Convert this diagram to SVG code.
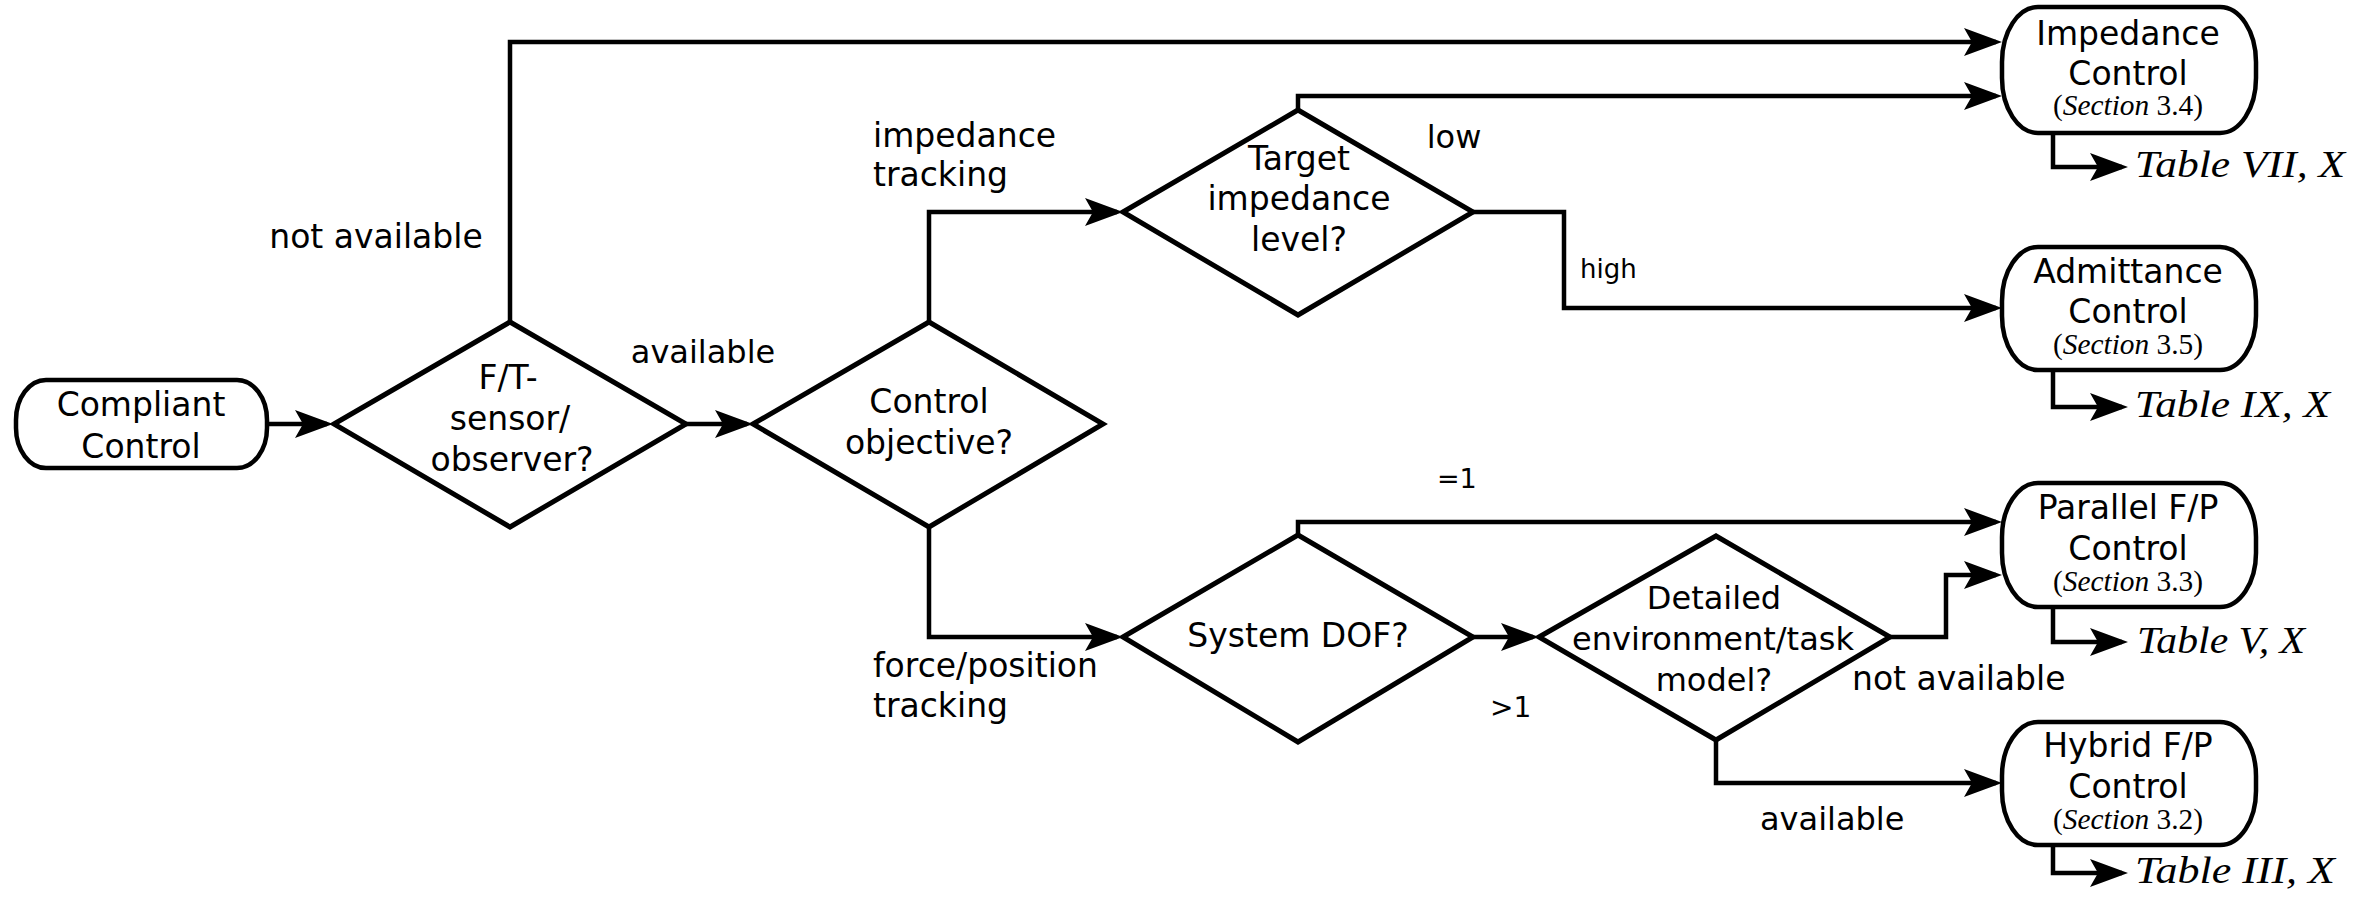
<svg xmlns="http://www.w3.org/2000/svg" width="2376" height="900" viewBox="0 0 2376 900">
<style>
.bg{fill:#ffffff}
.box{fill:#ffffff;stroke:#000;stroke-width:4.5}
.dia{fill:#ffffff;stroke:#000;stroke-width:5}
.con{fill:none;stroke:#000;stroke-width:4.5;stroke-linejoin:miter}
.t{font-family:"DejaVu Sans","Liberation Sans",sans-serif;font-size:33px;fill:#000;text-anchor:middle}
.d5{font-size:32px}
.lbl{font-family:"DejaVu Sans","Liberation Sans",sans-serif;font-size:32px;fill:#000}
.sec{font-family:"Liberation Serif","DejaVu Serif",serif;font-size:29px;fill:#000;text-anchor:middle}
.it{font-style:italic}
.tab{font-family:"Liberation Serif","DejaVu Serif",serif;font-size:38px;font-style:italic;fill:#000}
</style>
<defs>
<marker id="ah" markerUnits="userSpaceOnUse" viewBox="0 0 38 28" markerWidth="38" markerHeight="28" refX="32" refY="14" orient="auto">
<path d="M0,0 L38,14 L0,28 L8,14 Z" fill="#000"/>
</marker>
</defs>
<rect class="bg" x="0" y="0" width="2376" height="900"/>

<g id="connectors">
<path class="con" marker-end="url(#ah)" d="M268,424 H327"/>
<path class="con" marker-end="url(#ah)" d="M510,323 V42 H1996"/>
<path class="con" marker-end="url(#ah)" d="M685,424 H747"/>
<path class="con" marker-end="url(#ah)" d="M929,323 V212 H1117"/>
<path class="con" marker-end="url(#ah)" d="M1298,110 V96 H1996"/>
<path class="con" marker-end="url(#ah)" d="M1473,212 H1564 V308 H1996"/>
<path class="con" marker-end="url(#ah)" d="M929,527 V637 H1117"/>
<path class="con" marker-end="url(#ah)" d="M1298,535 V522 H1996"/>
<path class="con" marker-end="url(#ah)" d="M1473,637 H1533"/>
<path class="con" marker-end="url(#ah)" d="M1890,637 H1946 V575 H1996"/>
<path class="con" marker-end="url(#ah)" d="M1716,740 V783 H1996"/>
<path class="con" marker-end="url(#ah)" d="M2053,133 V167 H2122"/>
<path class="con" marker-end="url(#ah)" d="M2053,370 V407 H2122"/>
<path class="con" marker-end="url(#ah)" d="M2053,607 V642 H2122"/>
<path class="con" marker-end="url(#ah)" d="M2053,845 V873 H2122"/>
</g>

<g id="labels">
<text class="lbl" style="font-size:33px" x="376" y="248" text-anchor="middle">not available</text>
<text class="lbl" x="703" y="363" text-anchor="middle">available</text>
<text class="lbl" style="font-size:33px" x="873" y="147">impedance</text>
<text class="lbl" style="font-size:33px" x="873" y="186">tracking</text>
<text class="lbl" x="1454" y="148" text-anchor="middle">low</text>
<text class="lbl" style="font-size:26px" x="1580" y="278">high</text>
<text class="lbl" style="font-size:33px" x="873" y="677">force/position</text>
<text class="lbl" style="font-size:33px" x="873" y="717">tracking</text>
<text class="lbl" style="font-size:27px" x="1437" y="488">=1</text>
<text class="lbl" style="font-size:28px" x="1490" y="717">&gt;1</text>
<text class="lbl" style="font-size:33px" x="1852" y="690">not available</text>
<text class="lbl" x="1760" y="830">available</text>
</g>

<g id="compliant">
<rect class="box" x="16" y="380" width="251" height="88" rx="30" ry="40"/>
<text class="t" x="141" y="416">Compliant</text>
<text class="t" x="141" y="458">Control</text>
</g>

<g id="ft_sensor">
<polygon class="dia" points="334,424 510,322 686,424 510,527"/>
<text class="t" x="508" y="389">F/T-</text>
<text class="t" x="510" y="430">sensor/</text>
<text class="t" x="512" y="471">observer?</text>
</g>

<g id="control_objective">
<polygon class="dia" points="753,424 929,322 1103,424 929,527"/>
<text class="t" x="929" y="413">Control</text>
<text class="t" x="929" y="454">objective?</text>
</g>

<g id="target_impedance">
<polygon class="dia" points="1123,212 1298,110 1473,212 1298,315"/>
<text class="t" x="1299" y="170">Target</text>
<text class="t" x="1299" y="210">impedance</text>
<text class="t" x="1299" y="251">level?</text>
</g>

<g id="system_dof">
<polygon class="dia" points="1123,637 1298,535 1473,637 1298,742"/>
<text class="t" x="1298" y="647">System DOF?</text>
</g>

<g id="env_model">
<polygon class="dia" points="1539,637 1716,536 1890,637 1716,740"/>
<text class="t d5" x="1714" y="609">Detailed</text>
<text class="t d5" x="1713" y="650">environment/task</text>
<text class="t d5" x="1714" y="691">model?</text>
</g>

<g id="impedance_control">
<rect class="box" x="2002" y="7" width="254" height="126" rx="36" ry="55"/>
<text class="t" x="2128" y="45">Impedance</text>
<text class="t" x="2128" y="85">Control</text>
<text class="sec" x="2128" y="115" textLength="150" lengthAdjust="spacingAndGlyphs">(<tspan class="it">Section</tspan> 3.4)</text>
<text class="tab" x="2135" y="177" textLength="210" lengthAdjust="spacingAndGlyphs">Table VII, X</text>
</g>

<g id="admittance_control">
<rect class="box" x="2002" y="247" width="254" height="123" rx="36" ry="54"/>
<text class="t" x="2128" y="283">Admittance</text>
<text class="t" x="2128" y="323">Control</text>
<text class="sec" x="2128" y="354" textLength="150" lengthAdjust="spacingAndGlyphs">(<tspan class="it">Section</tspan> 3.5)</text>
<text class="tab" x="2135" y="417" textLength="195" lengthAdjust="spacingAndGlyphs">Table IX, X</text>
</g>

<g id="parallel_control">
<rect class="box" x="2002" y="483" width="254" height="124" rx="36" ry="54"/>
<text class="t" x="2128" y="519">Parallel F/P</text>
<text class="t" x="2128" y="560">Control</text>
<text class="sec" x="2128" y="591" textLength="150" lengthAdjust="spacingAndGlyphs">(<tspan class="it">Section</tspan> 3.3)</text>
<text class="tab" x="2137" y="653" textLength="168" lengthAdjust="spacingAndGlyphs">Table V, X</text>
</g>

<g id="hybrid_control">
<rect class="box" x="2002" y="722" width="254" height="123" rx="36" ry="54"/>
<text class="t" x="2128" y="757">Hybrid F/P</text>
<text class="t" x="2128" y="798">Control</text>
<text class="sec" x="2128" y="829" textLength="150" lengthAdjust="spacingAndGlyphs">(<tspan class="it">Section</tspan> 3.2)</text>
<text class="tab" x="2135" y="883" textLength="200" lengthAdjust="spacingAndGlyphs">Table III, X</text>
</g>
</svg>
